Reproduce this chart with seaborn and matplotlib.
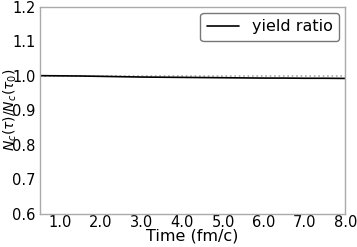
import numpy as np
import pandas as pd
import matplotlib
matplotlib.use("Agg")
import matplotlib.pyplot as plt
import seaborn as sns

# values
time = [0.5, 1.0, 1.5, 2.0, 2.5, 3.0, 3.5, 4.0, 4.5, 5.0, 5.5, 6.0, 6.5, 7.0, 7.5, 8.0]
ratio = [1.000, 0.9995, 0.999, 0.998, 0.997, 0.996, 0.9955, 0.995, 0.9945, 0.994,
         0.9935, 0.993, 0.993, 0.9925, 0.9925, 0.992]
ref_level = [1.0] * len(time)

xticks = [1.0, 2.0, 3.0, 4.0, 5.0, 6.0, 7.0, 8.0]
yticks = [0.6, 0.7, 0.8, 0.9, 1.0, 1.1, 1.2]

df = pd.DataFrame({"time": time, "ratio": ratio, "ref": ref_level})

sns.set_style("white")
plt.rcParams['font.family'] = ['DejaVu Sans']

fig, ax = plt.subplots(figsize=(3.57, 2.47), dpi=100)
sns.lineplot(data=df, x="time", y="ref", ax=ax, color="#aaaaaa", linestyle=":", linewidth=1.2)
sns.lineplot(data=df, x="time", y="ratio", ax=ax, color="black", linewidth=1.2, label="yield ratio")

ax.set_xlim(0.5, 8.0)
ax.set_ylim(0.6, 1.2)
ax.set_xticks(xticks)
ax.set_xticklabels([f"{t:.1f}" for t in xticks])
ax.set_yticks(yticks)
ax.set_yticklabels([f"{t:.1f}" for t in yticks])
ax.tick_params(labelsize=10.5, length=0, pad=1, labelcolor="black")
ax.tick_params(axis="y", length=2, color="#aaaaaa", pad=1)
ax.set_xlabel("Time (fm/c)", fontsize=11.5, color="black")
ax.set_ylabel(r"$N_c(\tau)/N_c(\tau_0)$", fontsize=10, color="black")
ax.xaxis.set_label_coords(0.5, -0.074, transform=ax.transAxes)
ax.yaxis.set_label_coords(-0.07, 0.5, transform=ax.transAxes)
for s in ax.spines.values():
    s.set_color("#aaaaaa")
    s.set_linewidth(1.0)
leg = ax.legend(loc="upper right", fontsize=11.5, frameon=True, edgecolor="#555555",
                handlelength=2.0, borderaxespad=0.4)
for t in leg.get_texts():
    t.set_color("black")

fig.subplots_adjust(left=0.112, right=0.967, top=0.973, bottom=0.135)
fig.savefig("out.png", dpi=100)
